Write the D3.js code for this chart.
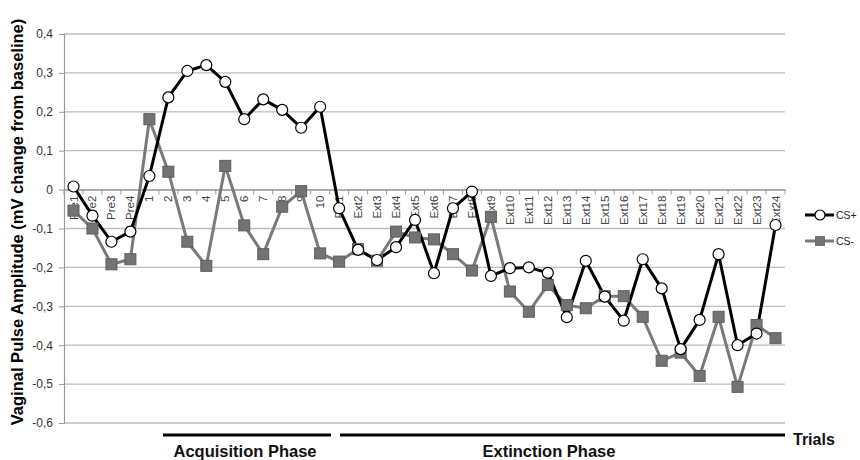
<!DOCTYPE html>
<html><head><meta charset="utf-8">
<script src="https://cdn.jsdelivr.net/npm/d3@7/dist/d3.min.js"></script>
<style>body{margin:0;background:#fff}svg{display:block}</style>
</head><body>
<svg id="c" width="860" height="460"></svg>
<script>
const categories = ["Pre1","Pre2","Pre3","Pre4","1","2","3","4","5","6","7","8","9","10",
  "Ext1","Ext2","Ext3","Ext4","Ext5","Ext6","Ext7","Ext8","Ext9","Ext10","Ext11","Ext12",
  "Ext13","Ext14","Ext15","Ext16","Ext17","Ext18","Ext19","Ext20","Ext21","Ext22","Ext23","Ext24"];
const csPlus = [0.008,-0.067,-0.134,-0.108,0.035,0.237,0.305,0.32,0.277,0.181,0.232,0.205,0.159,0.213,
  -0.048,-0.155,-0.181,-0.148,-0.078,-0.215,-0.048,-0.005,-0.222,-0.202,-0.2,-0.214,
  -0.328,-0.183,-0.275,-0.337,-0.179,-0.254,-0.41,-0.335,-0.166,-0.4,-0.37,-0.091];
const csMinus = [-0.054,-0.1,-0.192,-0.179,0.181,0.046,-0.134,-0.196,0.061,-0.092,-0.166,-0.044,-0.004,-0.164,
  -0.185,-0.153,-0.183,-0.108,-0.123,-0.128,-0.166,-0.208,-0.07,-0.262,-0.314,-0.245,
  -0.297,-0.305,-0.274,-0.274,-0.327,-0.44,-0.419,-0.479,-0.327,-0.507,-0.348,-0.382];
const yTicks = [0.4,0.3,0.2,0.1,0,-0.1,-0.2,-0.3,-0.4,-0.5,-0.6];
const seriesNames = ["CS+","CS-"];
const phases = [{name:"Acquisition Phase"},{name:"Extinction Phase"}];

const svg = d3.select("#c");
const L = 64, R = 785, T = 34, B = 423;
const x = d3.scaleBand().domain(categories).range([L, R]);
const y = d3.scaleLinear().domain([-0.6, 0.4]).range([B, T]);
const fmt = v => v === 0 ? "0" : d3.format(".1f")(v).replace(".", ",").replace("−","-");

// gridlines
svg.append("g").selectAll("line").data(yTicks).join("line")
  .attr("x1", L).attr("x2", R).attr("y1", d => y(d)).attr("y2", d => y(d))
  .attr("stroke", "#bdbdbd").attr("stroke-width", 1.3);

// y axis
const yAxis = d3.axisLeft(y).tickValues(yTicks).tickFormat(fmt).tickSize(5).tickPadding(6);
const ya = svg.append("g").attr("transform", `translate(${L},0)`).call(yAxis);
ya.select(".domain").attr("stroke", "#9a9a9a").attr("stroke-width", 1.2);
ya.selectAll(".tick line").attr("stroke", "#9a9a9a");
ya.selectAll("text").attr("font-family", "Liberation Sans, Arial, sans-serif").attr("font-size", 12).attr("fill", "#333");

// x axis at zero
const xAxis = d3.axisBottom(x).tickSize(0).tickPadding(0);
const xa = svg.append("g").attr("transform", `translate(0,${y(0)})`).call(xAxis);
xa.select(".domain").attr("stroke", "#9a9a9a").attr("stroke-width", 1.3);
xa.selectAll(".tick text")
  .attr("font-family", "Liberation Sans, Arial, sans-serif").attr("font-size", 11.5).attr("fill", "#444")
  .attr("transform", "rotate(-90)").attr("text-anchor", "end").attr("dy", "0.35em").attr("x", -6).attr("y", 0);
// boundary ticks
const bounds = categories.map(c => x(c)).concat([R]);
xa.append("g").selectAll("line").data(bounds).join("line")
  .attr("x1", d => d).attr("x2", d => d).attr("y1", 0).attr("y2", 5)
  .attr("stroke", "#9a9a9a").attr("stroke-width", 1);

const cx = c => x(c) + x.bandwidth() / 2;
const line = d3.line().x((d, i) => cx(categories[i])).y(d => y(d));

// CS- series
svg.append("path").datum(csMinus).attr("d", line).attr("fill", "none")
  .attr("stroke", "#7a7a7a").attr("stroke-width", 3).attr("stroke-linejoin", "round");
// CS+ series line
svg.append("path").datum(csPlus).attr("d", line).attr("fill", "none")
  .attr("stroke", "#000").attr("stroke-width", 3).attr("stroke-linejoin", "round");
// CS- markers
const sq = 11;
svg.append("g").selectAll("rect").data(csMinus).join("rect")
  .attr("x", (d, i) => cx(categories[i]) - sq / 2).attr("y", d => y(d) - sq / 2)
  .attr("width", sq).attr("height", sq).attr("fill", "#737373").attr("stroke", "#5e5e5e").attr("stroke-width", 1);
// CS+ markers
svg.append("g").selectAll("circle").data(csPlus).join("circle")
  .attr("cx", (d, i) => cx(categories[i])).attr("cy", d => y(d)).attr("r", 5.5)
  .attr("fill", "#fff").attr("stroke", "#000").attr("stroke-width", 1.2);

// legend
const lg = svg.append("g").attr("font-family", "Liberation Sans, Arial, sans-serif").attr("font-size", 10.5).attr("fill", "#222");
[215, 241].forEach((ly, k) => {
  lg.append("line").attr("x1", 805).attr("x2", 834).attr("y1", ly).attr("y2", ly)
    .attr("stroke", k ? "#7a7a7a" : "#000").attr("stroke-width", 3);
  if (k) lg.append("rect").attr("x", 820 - 5).attr("y", ly - 5).attr("width", 10).attr("height", 10).attr("fill", "#737373");
  else lg.append("circle").attr("cx", 820).attr("cy", ly).attr("r", 5).attr("fill", "#fff").attr("stroke", "#000").attr("stroke-width", 1.2);
  lg.append("text").attr("x", 836).attr("y", ly).attr("dy", "0.35em").text(seriesNames[k]);
});

// y axis title
svg.append("text").attr("transform", `translate(23,222) rotate(-90)`)
  .attr("text-anchor", "middle").attr("font-family", "Liberation Sans, Arial, sans-serif")
  .attr("font-weight", "bold").attr("font-size", 16.5).attr("fill", "#000")
  .text("Vaginal Pulse Amplitude (mV change from baseline)");

// phase bars
const phaseGeom = [[163, 331], [340, 785]];
phases.forEach((p, k) => {
  const [a, b] = phaseGeom[k];
  svg.append("line").attr("x1", a).attr("x2", b).attr("y1", 435).attr("y2", 435)
    .attr("stroke", "#000").attr("stroke-width", 3);
});
const bt = svg.append("g").attr("font-family", "Liberation Sans, Arial, sans-serif").attr("font-weight", "bold").attr("font-size", 16.5).attr("fill", "#111");
bt.append("text").attr("x", 245).attr("y", 457).attr("text-anchor", "middle").text(phases[0].name);
bt.append("text").attr("x", 549).attr("y", 457).attr("text-anchor", "middle").text(phases[1].name);
bt.append("text").attr("x", 793).attr("y", 445).attr("font-size", 16).text("Trials");
</script>
</body></html>
